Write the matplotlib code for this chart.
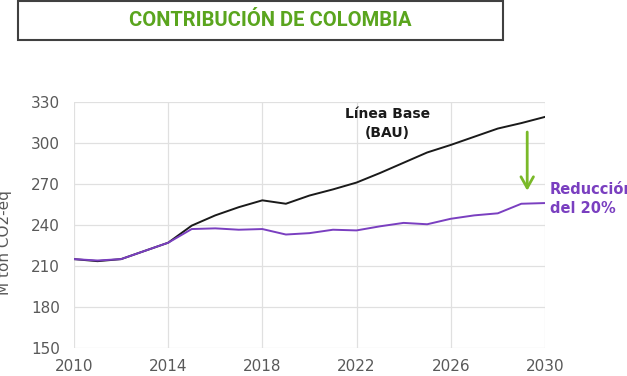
import matplotlib.pyplot as plt
from matplotlib.patches import Rectangle

# data
years = [2010, 2011, 2012, 2013, 2014, 2015, 2016, 2017, 2018, 2019,
         2020, 2021, 2022, 2023, 2024, 2025, 2026, 2027, 2028, 2029, 2030]
bau = [215, 213.5, 215, 221, 227, 239.5, 247, 253, 258, 255.5,
       261.5, 266, 271, 278, 285.5, 293, 298.5, 304.5, 310.5, 314.5, 319]
meta = [215, 214, 215, 221, 227, 237, 237.5, 236.5, 237, 233,
        234, 236.5, 236, 239, 241.5, 240.5, 244.5, 247, 248.5, 255.5, 256]
x_ticks = [2010, 2014, 2018, 2022, 2026, 2030]
y_ticks = [150, 180, 210, 240, 270, 300, 330]

purple = '#7a3fc0'
green = '#7ab929'
title_green = '#5aa51e'

fig = plt.figure(figsize=(6.27, 3.76), dpi=100)
ax = fig.add_axes([0.118, 0.0745, 0.751, 0.6545])

ax.plot(years, bau, color='#1a1a1a', lw=1.4)
ax.plot(years, meta, color=purple, lw=1.4)

ax.set_xlim(2010, 2030)
ax.set_ylim(150, 330)
ax.set_xticks(x_ticks)
ax.set_yticks(y_ticks)
ax.grid(True, color='#e0e0e0', lw=0.9)
ax.set_axisbelow(True)
for s in ax.spines.values():
    s.set_visible(False)
ax.tick_params(length=0, labelsize=11, colors='#595959')
ax.tick_params(axis='y', pad=10)
ax.tick_params(axis='x', pad=8)
ax.set_ylabel('M ton CO2-eq', fontsize=11, color='#595959')
ax.yaxis.set_label_coords(-0.131, 0.43)

# annotations
ax.text(2023.3, 314, 'Línea Base\n(BAU)', ha='center', va='center',
        fontsize=10, fontweight='bold', color='#1a1a1a', linespacing=1.45)
ax.text(2030.2, 259, 'Reducción\ndel 20%', ha='left', va='center',
        fontsize=10.5, fontweight='bold', color=purple, linespacing=1.35,
        clip_on=False)
ax.annotate('', xy=(2029.25, 263), xytext=(2029.25, 310),
            arrowprops=dict(arrowstyle='->,head_length=0.8,head_width=0.45',
                            color=green, lw=2))

# title box
fig.patches.append(Rectangle((18 / 627, 1 - 40 / 376), 485 / 627, 39 / 376,
                             transform=fig.transFigure, fill=False,
                             edgecolor='#404040', lw=1.5))
fig.text(270 / 627, 1 - 20 / 376, 'CONTRIBUCIÓN DE COLOMBIA', ha='center',
         va='center', fontsize=14.5, fontweight='bold', color=title_green,
         family=['Roboto', 'DejaVu Sans'])

fig.savefig('out.png', dpi=100)
